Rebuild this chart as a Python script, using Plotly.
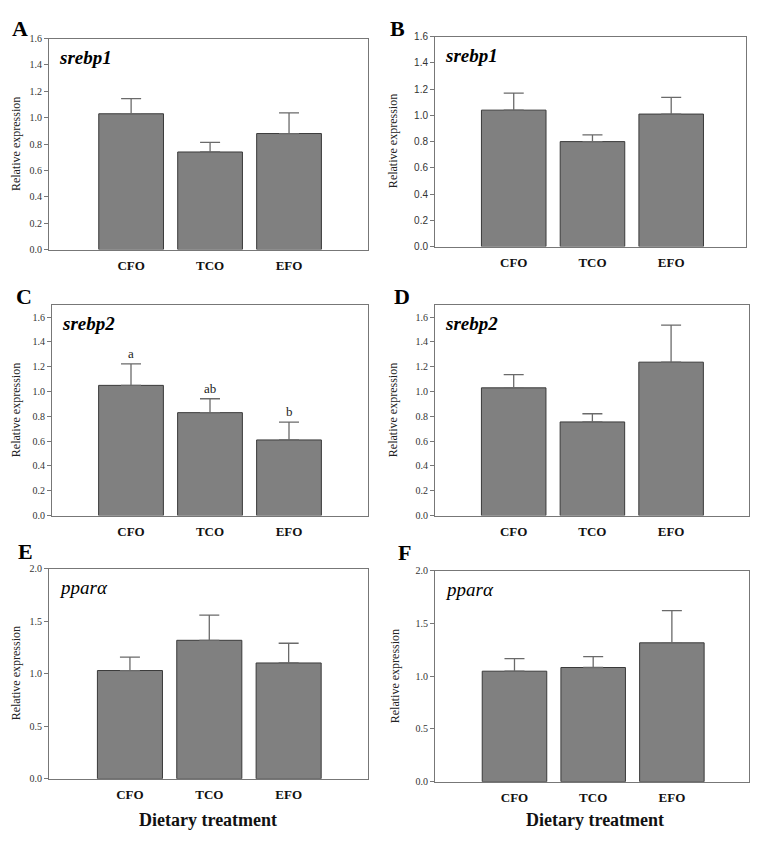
import plotly.graph_objects as go

# the page body has an 8px margin, so the figure is drawn 8px smaller on each side
OFF = 8
W, H = 758 - 2 * OFF, 843 - 2 * OFF

categories = ["CFO", "TCO", "EFO"]

# panel A / B : srebp1
srebp1_a = [1.03, 0.74, 0.88]
srebp1_a_se = [0.115, 0.073, 0.157]
srebp1_b = [1.04, 0.80, 1.01]
srebp1_b_se = [0.130, 0.052, 0.128]

# panel C / D : srebp2
srebp2_c = [1.05, 0.83, 0.61]
srebp2_c_se = [0.173, 0.112, 0.144]
srebp2_c_letters = ["a", "ab", "b"]
srebp2_d = [1.03, 0.755, 1.237]
srebp2_d_se = [0.106, 0.066, 0.299]

# panel E / F : ppar alpha
ppara_e = [1.031, 1.319, 1.103]
ppara_e_se = [0.128, 0.240, 0.188]
ppara_f = [1.048, 1.083, 1.317]
ppara_f_se = [0.119, 0.103, 0.305]

serif = "Liberation Serif, Times New Roman, serif"
sans = "Liberation Sans, Arial, sans-serif"


def px(x):
    return (x - OFF) / W


def py(y):
    return 1 - (y - OFF) / H


# page pixel boxes: (left, right, top, bottom), x range, y range, tick font
# lab = letter position (None for y means pinned to the top edge)
panels = [
    dict(name="A", y=srebp1_a, se=srebp1_a_se, gene="<b><i>srebp1</i></b>",
         box=(49, 368, 33, 247), xr=[-1.04, 3.0], yr=[0, 1.6], dt=0.2, tf=serif,
         lab=(20, None), ytitle=(16, 140)),
    dict(name="B", y=srebp1_b, se=srebp1_b_se, gene="<b><i>srebp1</i></b>",
         box=(435, 746, 31, 244), xr=[-1.0, 2.95], yr=[0, 1.6], dt=0.2, tf=sans,
         lab=(398, None), ytitle=(393, 137)),
    dict(name="C", y=srebp2_c, se=srebp2_c_se, gene="<b><i>srebp2</i></b>",
         box=(52, 368, 303, 517), xr=[-1.0, 3.0], yr=[0, 1.7], dt=0.2, tf=serif,
         lab=(24, 295), ytitle=(16, 410), letters=srebp2_c_letters),
    dict(name="D", y=srebp2_d, se=srebp2_d_se, gene="<b><i>srebp2</i></b>",
         box=(435, 749, 303, 517), xr=[-1.0, 2.99], yr=[0, 1.7], dt=0.2, tf=serif,
         lab=(402, 295), ytitle=(393, 410)),
    dict(name="E", y=ppara_e, se=ppara_e_se, gene="<i>ppar\u03b1</i>",
         box=(49, 368, 571, 784), xr=[-1.02, 3.0], yr=[0, 2.0], dt=0.5, tf=serif,
         lab=(25, 553), ytitle=(16, 677)),
    dict(name="F", y=ppara_f, se=ppara_f_se, gene="<i>ppar\u03b1</i>",
         box=(435, 749, 573, 787), xr=[-1.01, 2.98], yr=[0, 2.0], dt=0.5, tf=serif,
         lab=(405, 554), ytitle=(395, 680)),
]

fig = go.Figure()
annotations = []
layout = {}

for i, p in enumerate(panels):
    n = "" if i == 0 else str(i + 1)
    l, r, t, b = p["box"]
    fig.add_trace(go.Bar(
        x=categories, y=p["y"], xaxis="x" + n, yaxis="y" + n,
        marker=dict(color="#808080", line=dict(color="#3a3a3a", width=1)),
        error_y=dict(type="data", symmetric=False, array=p["se"],
                     arrayminus=[0] * len(p["se"]), color="#6a6a6a",
                     thickness=1.3, width=10),
        showlegend=False,
    ))
    layout["xaxis" + n] = dict(
        domain=[px(l), px(r)], anchor="y" + n, range=p["xr"],
        showline=True, mirror=True, linecolor="#777", linewidth=1,
        ticks="", showgrid=False, zeroline=False, ticklabelstandoff=4,
        tickfont=dict(family=serif, size=13, color="#111"),
        tickprefix="<b>", ticksuffix="</b>", fixedrange=True,
    )
    layout["yaxis" + n] = dict(
        domain=[py(b), py(t)], anchor="x" + n, range=p["yr"],
        dtick=p["dt"], tickformat=".1f",
        showline=True, mirror=True, linecolor="#777", linewidth=1,
        ticks="outside", ticklen=4, tickcolor="#777",
        showgrid=False, zeroline=False,
        tickfont=dict(family=p["tf"], size=10, color="#333"),
    )
    # panel letter
    lx, ly = p["lab"]
    annotations.append(dict(
        text="<b>" + p["name"] + "</b>", x=px(lx),
        y=1 if ly is None else py(ly),
        xref="paper", yref="paper", xanchor="center",
        yanchor="top" if ly is None else "middle",
        showarrow=False, font=dict(family=serif, size=22, color="#000"),
    ))
    # gene name
    annotations.append(dict(
        text=p["gene"], x=0.025, y=0.91, xref="x" + n + " domain",
        yref="y" + n + " domain", xanchor="left", yanchor="middle",
        showarrow=False, font=dict(family=serif, size=19, color="#000"),
    ))
    # y title
    annotations.append(dict(
        text="Relative expression", x=px(p["ytitle"][0]), y=py(p["ytitle"][1]),
        xref="paper", yref="paper", xanchor="center", yanchor="middle",
        textangle=-90, showarrow=False,
        font=dict(family=serif, size=12, color="#222"),
    ))
    # significance letters
    if "letters" in p:
        for c, v, s, txt in zip(categories, p["y"], p["se"], p["letters"]):
            annotations.append(dict(
                text=txt, x=c, y=v + s, xref="x" + n, yref="y" + n,
                yanchor="bottom", yshift=1, showarrow=False,
                font=dict(family=serif, size=13, color="#222"),
            ))

for xc in (208, 595):
    annotations.append(dict(
        text="<b>Dietary treatment</b>", x=px(xc), y=py(826),
        xref="paper", yref="paper", xanchor="center", yanchor="middle",
        showarrow=False, font=dict(family=serif, size=18, color="#111"),
    ))

fig.update_layout(
    width=W, height=H,
    margin=dict(l=0, r=0, t=0, b=0),
    paper_bgcolor="white", plot_bgcolor="white",
    bargap=0.18,
    annotations=annotations,
    **layout,
)

fig.write_html("out.html")
